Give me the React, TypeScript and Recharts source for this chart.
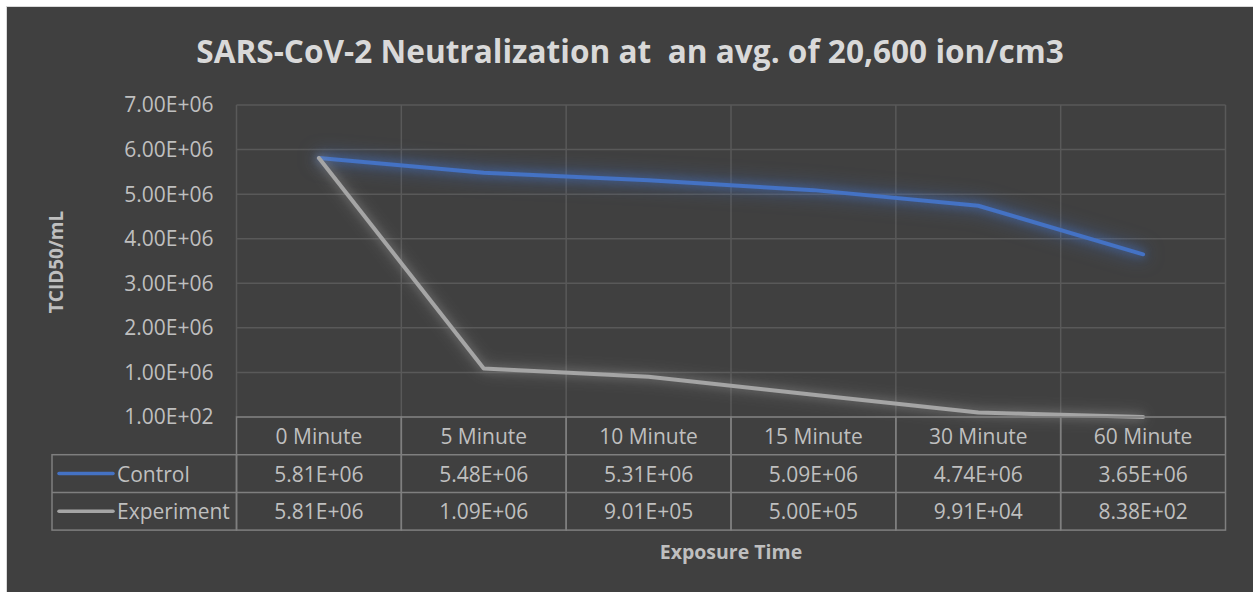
import { CartesianGrid, Line, LineChart, XAxis, YAxis } from 'recharts';

// exposure time categories and measured titres
const categories = ['0 Minute', '5 Minute', '10 Minute', '15 Minute', '30 Minute', '60 Minute'];
const controlValues = [5.81e6, 5.48e6, 5.31e6, 5.09e6, 4.74e6, 3.65e6];
const experimentValues = [5.81e6, 1.09e6, 9.01e5, 5.0e5, 9.91e4, 8.38e2];
const yTicks = [1e2, 1e6, 2e6, 3e6, 4e6, 5e6, 6e6, 7e6];

const series = [
  { key: 'control', name: 'Control', color: '#4472c4', glow: 'rgba(68,114,196,0.75)', values: controlValues },
  { key: 'experiment', name: 'Experiment', color: '#a5a5a5', glow: 'rgba(165,165,165,0.45)', values: experimentValues }
];

const data = categories.map((label, i) => ({
  label,
  control: controlValues[i],
  experiment: experimentValues[i]
}));

const WIDTH = 1246;
const HEIGHT = 585;
const MARGIN = { top: 98, right: 27.5, bottom: 0, left: 0 };
const YAXIS_W = 229.5;
const XAXIS_H = HEIGHT - MARGIN.top - 312;
const PLOT_W = WIDTH - MARGIN.left - MARGIN.right - YAXIS_W;
const CELL_W = PLOT_W / categories.length;
const ROW_H = 37.7;
const LEGEND_W = 184.5;

const FONT = '"Open Sans", sans-serif';
const TEXT = '#bfbfbf';
const TABLE_LINE = '#7f7f7f';

function sci(v: number) {
  const [m, e] = v.toExponential(2).split('e');
  const exp = Number(e);
  return `${m}E${exp < 0 ? '-' : '+'}${String(Math.abs(exp)).padStart(2, '0')}`;
}

// each x tick draws its own column of the data table
function TableTick(props: any) {
  const { x, y, payload } = props;
  const index: number = payload.index;
  const left = x - CELL_W / 2;
  const textProps = {
    fill: TEXT,
    fontSize: 21,
    fontFamily: FONT,
    textAnchor: 'middle' as const,
    dominantBaseline: 'central' as const
  };
  return (
    <g>
      <rect x={left} y={y} width={CELL_W} height={ROW_H * 3} fill="none" stroke={TABLE_LINE} strokeWidth={1.5} />
      <line x1={left} x2={left + CELL_W} y1={y + ROW_H} y2={y + ROW_H} stroke={TABLE_LINE} strokeWidth={1.5} />
      <line x1={left} x2={left + CELL_W} y1={y + ROW_H * 2} y2={y + ROW_H * 2} stroke={TABLE_LINE} strokeWidth={1.5} />
      <text x={x} y={y + ROW_H / 2} {...textProps}>
        {payload.value}
      </text>
      {series.map((s, r) => (
        <text key={s.key} x={x} y={y + ROW_H * (r + 1.5)} {...textProps}>
          {sci(s.values[index])}
        </text>
      ))}
      {index === 0 && (
        <g>
          <rect
            x={left - LEGEND_W}
            y={y + ROW_H}
            width={LEGEND_W}
            height={ROW_H * 2}
            fill="none"
            stroke={TABLE_LINE}
            strokeWidth={1.5}
          />
          <line
            x1={left - LEGEND_W}
            x2={left}
            y1={y + ROW_H * 2}
            y2={y + ROW_H * 2}
            stroke={TABLE_LINE}
            strokeWidth={1.5}
          />
          {series.map((s, r) => (
            <g key={s.key}>
              <line
                x1={left - LEGEND_W + 7}
                x2={left - LEGEND_W + 61}
                y1={y + ROW_H * (r + 1.5)}
                y2={y + ROW_H * (r + 1.5)}
                stroke={s.color}
                strokeWidth={3.5}
                strokeLinecap="round"
              />
              <text
                x={left - LEGEND_W + 65}
                y={y + ROW_H * (r + 1.5)}
                fill={TEXT}
                fontSize={21}
                fontFamily={FONT}
                dominantBaseline="central"
              >
                {s.name}
              </text>
            </g>
          ))}
        </g>
      )}
    </g>
  );
}

export default function App() {
  return (
    <div style={{ position: 'absolute', left: 0, top: 0, width: 1253, height: 592, background: '#ffffff', overflow: 'hidden' }}>
      <style>{`
        .glow-control .recharts-line-curve { filter: drop-shadow(0 0 4px ${series[0].glow}) drop-shadow(0 0 9px ${series[0].glow}); }
        .glow-experiment .recharts-line-curve { filter: drop-shadow(0 0 4px ${series[1].glow}) drop-shadow(0 0 8px ${series[1].glow}); }
      `}</style>
      <div
        style={{
          position: 'absolute',
          left: 6,
          top: 6,
          width: WIDTH,
          height: HEIGHT,
          border: '1px solid #d9d9d9',
          background: '#404040',
          fontFamily: FONT
        }}
      >
        <div
          style={{
            position: 'absolute',
            left: 0,
            width: WIDTH,
            top: 22,
            textAlign: 'center',
            color: '#d9d9d9',
            fontSize: 31.6,
            fontWeight: 700,
            whiteSpace: 'pre'
          }}
        >
          {'SARS-CoV-2 Neutralization at  an avg. of 20,600 ion/cm3'}
        </div>
        <div
          style={{
            position: 'absolute',
            left: 49,
            top: 255,
            transform: 'translate(-50%, -50%) rotate(-90deg)',
            color: TEXT,
            fontSize: 19,
            fontWeight: 700,
            whiteSpace: 'nowrap'
          }}
        >
          TCID50/mL
        </div>
        <div
          style={{
            position: 'absolute',
            left: MARGIN.left + YAXIS_W + PLOT_W / 2,
            top: 544,
            transform: 'translate(-50%, -50%)',
            color: TEXT,
            fontSize: 19.5,
            fontWeight: 700,
            whiteSpace: 'nowrap'
          }}
        >
          Exposure Time
        </div>
        <LineChart width={WIDTH} height={HEIGHT} data={data} margin={MARGIN} style={{ position: 'absolute', left: 0, top: 0 }}>
          <CartesianGrid
            stroke="#595959"
            strokeWidth={1.5}
            verticalCoordinatesGenerator={({ offset }: any) =>
              categories.map((_, i) => offset.left + i * (offset.width / categories.length)).concat(offset.left + offset.width)
            }
          />
          <XAxis
            dataKey="label"
            scale="band"
            axisLine={false}
            tickLine={false}
            tickSize={0}
            tickMargin={0}
            height={XAXIS_H}
            interval={0}
            tick={<TableTick />}
          />
          <YAxis
            width={YAXIS_W}
            domain={[1e2, 7e6]}
            ticks={yTicks}
            axisLine={false}
            tickLine={false}
            tickSize={0}
            tickMargin={23}
            tickFormatter={(v: number) => sci(v)}
            tick={{ fill: TEXT, fontSize: 21, fontFamily: FONT }}
          />
          {series.map((s) => (
            <Line
              key={s.key}
              className={`glow-${s.key}`}
              type="linear"
              dataKey={s.key}
              name={s.name}
              stroke={s.color}
              strokeWidth={4}
              strokeLinecap="round"
              strokeLinejoin="round"
              dot={false}
              activeDot={false}
              isAnimationActive={false}
            />
          ))}
        </LineChart>
      </div>
    </div>
  );
}
